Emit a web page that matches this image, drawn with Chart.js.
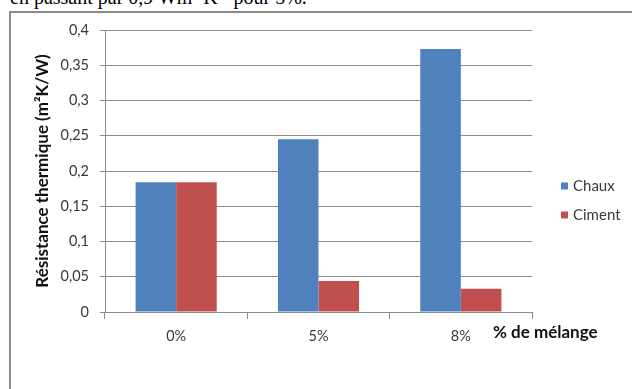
<!DOCTYPE html>
<html>
<head>
<meta charset="utf-8">
<script src="https://cdn.jsdelivr.net/npm/chart.js@4.4.1/dist/chart.umd.min.js"></script>
<style>
  html, body { margin: 0; padding: 0; background: #fff; width: 632px; height: 389px; overflow: hidden; }
  #caption { position: absolute; left: 10px; top: -13px; font: 20px/20px "Liberation Serif", serif; color: #000; white-space: nowrap; }
  #caption sup { font-size: 13px; line-height: 0; vertical-align: 7px; }
  #frame { position: absolute; left: 9px; top: 11px; width: 700px; height: 500px; border: 2px solid #8a8a8a; box-sizing: border-box; }
  #chart { position: absolute; left: 0; top: 0; }
</style>
</head>
<body>
<div id="caption">en passant par 0,9 Wm<sup>-1</sup>K<sup>-1</sup> pour 5%.</div>
<div id="frame"></div>
<canvas id="chart" width="632" height="389"></canvas>
<script>
// Mix proportions on the x axis
const categories = ['0%', '5%', '8%'];
// Thermal resistance (m²K/W) per binder
const chauxValues = [0.184, 0.245, 0.373];
const cimentValues = [0.184, 0.044, 0.033];
const seriesNames = ['Chaux', 'Ciment'];
// Y tick labels, French decimal comma
const yTickLabels = ['0', '0,05', '0,1', '0,15', '0,2', '0,25', '0,3', '0,35', '0,4'];

const axisGray = '#8c8c8c';
const textGray = '#3a3a3a';
const fontFamily = 'Lato, "Open Sans", sans-serif';

// Legend at the right, drawn as square swatches next to the series names
const sideLegend = {
  id: 'sideLegend',
  afterDraw(chart) {
    const ctx = chart.ctx;
    ctx.save();
    ctx.font = '15px ' + fontFamily;
    ctx.textBaseline = 'middle';
    ctx.textAlign = 'left';
    const ys = [186, 215];
    chart.data.datasets.forEach((ds, i) => {
      ctx.fillStyle = ds.backgroundColor;
      ctx.fillRect(561, ys[i] - 3.5, 7, 7);
      ctx.fillStyle = textGray;
      ctx.fillText(ds.label, 573, ys[i]);
    });
    ctx.restore();
  }
};

// X axis title placed past the last category label
const xAxisTitle = {
  id: 'xAxisTitle',
  afterDraw(chart) {
    const ctx = chart.ctx;
    ctx.save();
    ctx.font = 'bold 17px ' + fontFamily;
    ctx.textBaseline = 'middle';
    ctx.textAlign = 'left';
    ctx.fillStyle = '#111';
    ctx.fillText('% de mélange', 493, 333);
    ctx.restore();
  }
};

new Chart(document.getElementById('chart'), {
  type: 'bar',
  data: {
    labels: categories,
    datasets: [
      { label: seriesNames[0], data: chauxValues, backgroundColor: '#4F81BD' },
      { label: seriesNames[1], data: cimentValues, backgroundColor: '#C0504D' }
    ]
  },
  options: {
    responsive: false,
    animation: false,
    devicePixelRatio: 1,
    layout: { padding: { left: 0, top: 30, right: 100, bottom: 0 } },
    datasets: { bar: { categoryPercentage: 0.57, barPercentage: 1.0, borderWidth: 0 } },
    plugins: { legend: { display: false }, tooltip: { enabled: false } },
    scales: {
      x: {
        grid: { offset: true, drawOnChartArea: false, color: axisGray, tickLength: 7 },
        border: { color: axisGray },
        ticks: { color: textGray, font: { family: fontFamily, size: 14.5 }, padding: 9 },
        afterFit(s) { s.height = 77; }
      },
      y: {
        min: 0,
        max: 0.4,
        grid: { color: axisGray, tickLength: 5 },
        border: { color: axisGray },
        ticks: {
          stepSize: 0.05,
          color: textGray,
          font: { family: fontFamily, size: 14.5 },
          padding: 11,
          callback: (v, i) => yTickLabels[i]
        },
        title: {
          display: true,
          text: 'Résistance thermique (m²K/W)',
          color: '#111',
          font: { family: fontFamily, size: 17, weight: 'bold' },
          padding: { top: 32, bottom: 0 }
        },
        afterFit(s) { s.width = 105; }
      }
    }
  },
  plugins: [sideLegend, xAxisTitle]
});
</script>
</body>
</html>
